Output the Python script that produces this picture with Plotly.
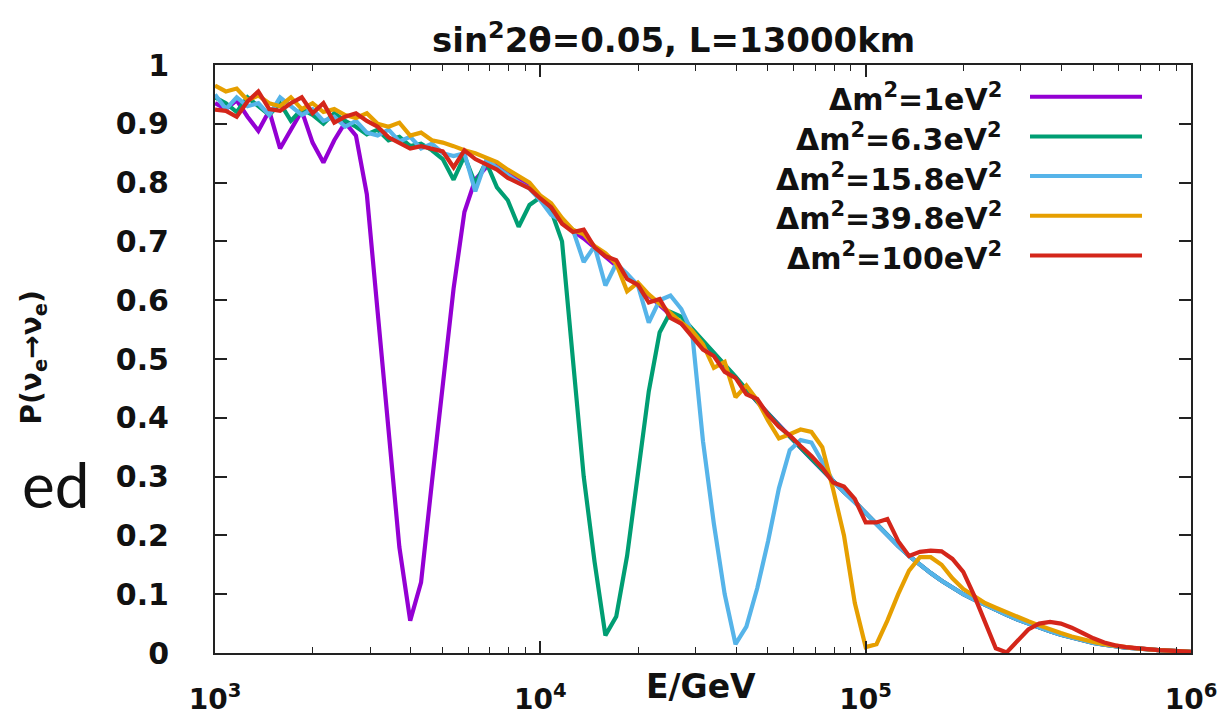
import plotly.graph_objects as go

# Energies (GeV)
energy = [1000, 1080, 1166, 1259, 1359, 1468, 1585, 1711, 1848, 1995,
          2154, 2326, 2512, 2712, 2929, 3162, 3415, 3687, 3981, 4299,
          4642, 5012, 5412, 5843, 6310, 6813, 7356, 7943, 8577, 9261,
          10000, 10798, 11659, 12589, 13594, 14678, 15849, 17113, 18478, 19953,
          21544, 23263, 25119, 27123, 29286, 31623, 34146, 36869, 39811, 42987,
          46416, 50119, 54117, 58434, 63096, 68129, 73564, 79433, 85770, 92611,
          100000, 107978, 116591, 125893, 135936, 146780, 158489, 171133, 184785, 199526,
          215443, 232631, 251189, 271227, 292864, 316228, 341455, 368695, 398107, 429866,
          464159, 501187, 541170, 584341, 630957, 681292, 735642, 794328, 857696, 926119,
          1000000]

p_dm1 = [0.935, 0.925, 0.940, 0.912, 0.888, 0.922, 0.858, 0.890, 0.922, 0.868,
         0.834, 0.872, 0.902, 0.880, 0.780, 0.580, 0.380, 0.180, 0.055, 0.120,
         0.290, 0.450, 0.620, 0.750, 0.805, 0.826, 0.830, 0.820, 0.806, 0.792,
         0.775, 0.758, 0.734, 0.718, 0.705, 0.690, 0.675, 0.660, 0.643, 0.625,
         0.608, 0.592, 0.575, 0.560, 0.545, 0.528, 0.510, 0.490, 0.470, 0.448,
         0.427, 0.407, 0.387, 0.368, 0.349, 0.330, 0.311, 0.292, 0.274, 0.257,
         0.238, 0.219, 0.200, 0.182, 0.165, 0.150, 0.136, 0.123, 0.111, 0.100,
         0.091, 0.082, 0.073, 0.065, 0.057, 0.050, 0.043, 0.037, 0.031, 0.026,
         0.021, 0.017, 0.014, 0.011, 0.009, 0.008, 0.006, 0.005, 0.004, 0.003,
         0.002]

p_dm6p3 = [0.945, 0.935, 0.920, 0.945, 0.930, 0.915, 0.935, 0.905, 0.925, 0.915,
           0.900, 0.918, 0.905, 0.895, 0.882, 0.890, 0.872, 0.878, 0.862, 0.866,
           0.855, 0.840, 0.805, 0.845, 0.798, 0.835, 0.792, 0.770, 0.725, 0.762,
           0.775, 0.752, 0.700, 0.505, 0.300, 0.155, 0.030, 0.062, 0.165, 0.305,
           0.445, 0.545, 0.580, 0.572, 0.552, 0.532, 0.512, 0.490, 0.470, 0.448,
           0.427, 0.407, 0.387, 0.368, 0.349, 0.330, 0.311, 0.292, 0.274, 0.257,
           0.238, 0.219, 0.200, 0.182, 0.165, 0.150, 0.136, 0.123, 0.111, 0.100,
           0.091, 0.082, 0.073, 0.065, 0.057, 0.050, 0.043, 0.037, 0.031, 0.026,
           0.021, 0.017, 0.014, 0.011, 0.009, 0.008, 0.006, 0.005, 0.004, 0.003,
           0.002]

p_dm15p8 = [0.950, 0.925, 0.945, 0.930, 0.935, 0.915, 0.945, 0.930, 0.915, 0.925,
            0.905, 0.912, 0.895, 0.905, 0.885, 0.880, 0.890, 0.870, 0.878, 0.858,
            0.866, 0.850, 0.845, 0.850, 0.785, 0.838, 0.825, 0.812, 0.800, 0.790,
            0.770, 0.745, 0.735, 0.720, 0.665, 0.692, 0.625, 0.662, 0.645, 0.625,
            0.562, 0.600, 0.608, 0.585, 0.545, 0.360, 0.220, 0.100, 0.015, 0.045,
            0.110, 0.190, 0.280, 0.345, 0.362, 0.358, 0.325, 0.292, 0.274, 0.257,
            0.238, 0.219, 0.200, 0.182, 0.165, 0.150, 0.136, 0.123, 0.111, 0.100,
            0.091, 0.082, 0.073, 0.065, 0.057, 0.050, 0.043, 0.037, 0.031, 0.026,
            0.021, 0.017, 0.014, 0.011, 0.009, 0.008, 0.006, 0.005, 0.004, 0.003,
            0.002]

p_dm39p8 = [0.965, 0.955, 0.960, 0.940, 0.948, 0.935, 0.930, 0.945, 0.925, 0.935,
            0.920, 0.925, 0.915, 0.910, 0.918, 0.900, 0.895, 0.902, 0.880, 0.885,
            0.872, 0.868, 0.862, 0.855, 0.850, 0.842, 0.835, 0.822, 0.810, 0.800,
            0.778, 0.765, 0.740, 0.720, 0.712, 0.692, 0.680, 0.662, 0.615, 0.630,
            0.610, 0.595, 0.578, 0.562, 0.548, 0.525, 0.485, 0.495, 0.435, 0.455,
            0.430, 0.395, 0.365, 0.372, 0.380, 0.376, 0.350, 0.278, 0.200, 0.085,
            0.010, 0.015, 0.055, 0.100, 0.140, 0.163, 0.163, 0.150, 0.127, 0.109,
            0.096, 0.085, 0.077, 0.069, 0.062, 0.054, 0.047, 0.040, 0.034, 0.028,
            0.023, 0.019, 0.015, 0.012, 0.010, 0.008, 0.006, 0.005, 0.004, 0.003,
            0.002]

p_dm100 = [0.924, 0.922, 0.912, 0.938, 0.955, 0.925, 0.922, 0.935, 0.945, 0.918,
           0.935, 0.902, 0.912, 0.918, 0.905, 0.895, 0.877, 0.868, 0.858, 0.862,
           0.857, 0.853, 0.826, 0.855, 0.840, 0.830, 0.822, 0.808, 0.798, 0.790,
           0.773, 0.758, 0.730, 0.716, 0.720, 0.690, 0.675, 0.668, 0.636, 0.626,
           0.596, 0.602, 0.570, 0.560, 0.538, 0.516, 0.505, 0.478, 0.468, 0.440,
           0.432, 0.405, 0.385, 0.370, 0.352, 0.335, 0.315, 0.290, 0.283, 0.262,
           0.222, 0.222, 0.228, 0.190, 0.165, 0.172, 0.174, 0.173, 0.160, 0.138,
           0.098, 0.055, 0.008, 0.001, 0.020, 0.040, 0.050, 0.053, 0.050, 0.043,
           0.034, 0.025, 0.018, 0.013, 0.010, 0.008, 0.006, 0.005, 0.004, 0.003,
           0.002]

series_labels = ["Δm<sup>2</sup>=1eV<sup>2</sup>", "Δm<sup>2</sup>=6.3eV<sup>2</sup>",
                 "Δm<sup>2</sup>=15.8eV<sup>2</sup>", "Δm<sup>2</sup>=39.8eV<sup>2</sup>",
                 "Δm<sup>2</sup>=100eV<sup>2</sup>"]
series_values = [p_dm1, p_dm6p3, p_dm15p8, p_dm39p8, p_dm100]
series_colors = ["#9400d3", "#009e73", "#56b4e9", "#e69f00", "#d4261a"]

x_tickvals = [1e3, 1e4, 1e5, 1e6]
x_ticktext = ["10<sup>3</sup>", "10<sup>4</sup>", "10<sup>5</sup>", "10<sup>6</sup>"]
y_tickvals = [0, 0.1, 0.2, 0.3, 0.4, 0.5, 0.6, 0.7, 0.8, 0.9, 1]
y_ticktext = ["0", "0.1", "0.2", "0.3", "0.4", "0.5", "0.6", "0.7", "0.8", "0.9", "1"]

FONT = "DejaVu Sans"
W, H = 1229, 728
ML, MR, MT, MB = 215, 38, 65, 70
PW, PH = W - ML - MR, H - MT - MB


def px_x(px):
    return (px - ML) / PW


def px_y(py):
    return (H - MB - py) / PH


fig = go.Figure()
for lab, vals, col in zip(series_labels, series_values, series_colors):
    fig.add_trace(go.Scatter(x=energy, y=vals, mode="lines", name=lab,
                             line=dict(color=col, width=4.2), showlegend=False))

minor_vals = [m * 10 ** e for e in (3, 4, 5) for m in range(2, 10)]

axis_common = dict(showline=True, linecolor="#222222", linewidth=2, mirror="ticks",
                   ticks="inside", tickcolor="#222222", tickwidth=1.5, ticklen=12,
                   showgrid=False, zeroline=False)

fig.update_xaxes(type="log", range=[3, 6], tickmode="array", tickvals=x_tickvals,
                 ticktext=x_ticktext, ticklabelstandoff=20,
                 tickfont=dict(family=FONT, size=28, color="#111111", weight="bold"),
                 minor=dict(ticks="inside", ticklen=6, tickwidth=1.2, tickcolor="#222222",
                            tickmode="array", tickvals=minor_vals),
                 **axis_common)
fig.update_yaxes(range=[0, 1], tickmode="array", tickvals=y_tickvals, ticktext=y_ticktext,
                 ticklabelstandoff=38,
                 tickfont=dict(family=FONT, size=30, color="#111111", weight="bold"),
                 **axis_common)

annotations = [
    dict(text="sin<sup>2</sup>2θ=0.05, L=13000km", x=px_x(673), y=px_y(38),
         xref="paper", yref="paper", showarrow=False, xanchor="center", yanchor="middle",
         font=dict(family=FONT, size=34, color="#111111", weight="bold")),
    dict(text="E/GeV", x=px_x(701), y=px_y(692), xref="paper", yref="paper",
         showarrow=False, xanchor="center", yanchor="middle",
         font=dict(family=FONT, size=33, color="#111111", weight="bold")),
    dict(text="P(ν<sub>e</sub>→ν<sub>e</sub>)", x=px_x(34), y=px_y(360),
         xref="paper", yref="paper", showarrow=False, textangle=-90,
         xanchor="center", yanchor="middle",
         font=dict(family=FONT, size=28, color="#111111", weight="bold")),
    dict(text="ed", x=px_x(20), y=px_y(488), xref="paper", yref="paper",
         showarrow=False, xanchor="left", yanchor="middle",
         font=dict(family="Lato", size=62, color="#111111")),
]

legend_rows_py = [97, 137, 177, 217, 257]
shapes = []
for lab, col, py in zip(series_labels, series_colors, legend_rows_py):
    annotations.append(dict(text=lab, x=px_x(1004), y=px_y(py + 1), xref="paper", yref="paper",
                            showarrow=False, xanchor="right", yanchor="middle",
                            font=dict(family=FONT, size=30, color="#111111", weight="bold")))
    shapes.append(dict(type="line", xref="paper", yref="paper",
                       x0=px_x(1030), x1=px_x(1142), y0=px_y(py), y1=px_y(py),
                       line=dict(color=col, width=4)))

fig.update_layout(width=W, height=H, margin=dict(l=ML, r=MR, t=MT, b=MB),
                  paper_bgcolor="white", plot_bgcolor="white",
                  annotations=annotations, shapes=shapes, showlegend=False)

fig.write_html("out.html", config={"displayModeBar": False},
               post_script="document.body.style.margin='0px';")
